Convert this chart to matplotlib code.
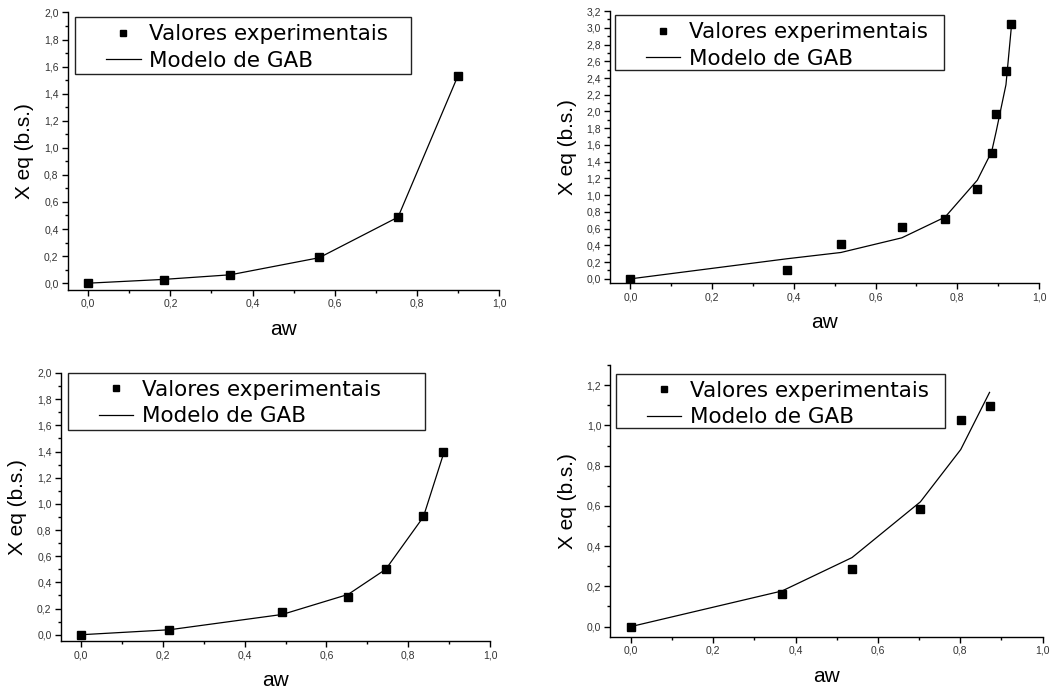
import matplotlib
matplotlib.use("Agg")
import matplotlib.pyplot as plt
from matplotlib.patches import Rectangle
from matplotlib.ticker import MultipleLocator, FuncFormatter

plt.rcParams["font.family"] = ["Liberation Sans", "DejaVu Sans"]

# Panel A (top left)
aw_a = [0.0, 0.184, 0.346, 0.562, 0.754, 0.899]
exp_a = [0.0, 0.027, 0.064, 0.192, 0.490, 1.527]
gab_a = [0.0, 0.028, 0.062, 0.188, 0.488, 1.527]

# Panel B (top right)
aw_b = [0.0, 0.383, 0.515, 0.664, 0.770, 0.849, 0.884, 0.895, 0.919, 0.932]
exp_b = [0.0, 0.104, 0.415, 0.615, 0.718, 1.069, 1.508, 1.975, 2.486, 3.041]
gab_b = [0.0, 0.24, 0.315, 0.49, 0.738, 1.18, 1.52, 1.76, 2.32, 3.0]

# Panel C (bottom left)
aw_c = [0.0, 0.216, 0.492, 0.653, 0.745, 0.837, 0.886]
exp_c = [0.0, 0.038, 0.173, 0.288, 0.499, 0.911, 1.394]
gab_c = [0.0, 0.038, 0.155, 0.308, 0.50, 0.90, 1.38]

# Panel D (bottom right)
aw_d = [0.0, 0.367, 0.537, 0.703, 0.801, 0.871]
exp_d = [0.0, 0.161, 0.285, 0.582, 1.028, 1.094]
gab_d = [0.0, 0.177, 0.343, 0.62, 0.88, 1.164]

# data, y top, axes rect, legend box (x0, x1, ybottom, ytop) in axes fraction
panels = [
    (aw_a, exp_a, gab_a, 2.0, [0.0637, 0.581, 0.4063, 0.401],
     (0.0176, 0.795, 0.780, 0.982)),
    (aw_b, exp_b, gab_b, 3.2, [0.5744, 0.591, 0.4040, 0.393],
     (0.0117, 0.779, 0.782, 0.984)),
    (aw_c, exp_c, gab_c, 2.0, [0.0571, 0.0733, 0.4043, 0.3877],
     (0.0163, 0.849, 0.789, 1.0)),
    (aw_d, exp_d, gab_d, 1.3, [0.5747, 0.080, 0.4071, 0.3925],
     (0.0132, 0.775, 0.769, 0.968)),
]

comma = FuncFormatter(lambda v, p: f"{v:.1f}".replace(".", ","))

W, H = 1062, 692
fig = plt.figure(figsize=(W / 100, H / 100), dpi=100)

for aw, exp, gab, ytop, rect, box in panels:
    ax = fig.add_axes(rect)
    ax.plot(aw, gab, color="black", lw=0.9, label="Modelo de GAB", zorder=2)
    ax.plot(aw, exp, ls="none", marker="s", ms=6, color="black",
            label="Valores experimentais", zorder=3)
    ax.set_xlim(-0.05, 1.0)
    ax.set_ylim(-0.05, ytop)
    for s in ("top", "right"):
        ax.spines[s].set_visible(False)
    for s in ("left", "bottom"):
        ax.spines[s].set_linewidth(1.0)
    ax.xaxis.set_major_locator(MultipleLocator(0.2))
    ax.xaxis.set_minor_locator(MultipleLocator(0.1))
    ax.yaxis.set_major_locator(MultipleLocator(0.2))
    ax.yaxis.set_minor_locator(MultipleLocator(0.1))
    ax.xaxis.set_major_formatter(comma)
    ax.yaxis.set_major_formatter(comma)
    ax.tick_params(which="major", length=4, width=1, labelsize=7.5,
                   colors="black", labelcolor="#333333", pad=2.5)
    ax.tick_params(which="minor", length=2.5, width=1)
    ax.set_xlabel("aw", fontsize=15, labelpad=8)
    ax.set_ylabel("X eq (b.s.)", fontsize=15, labelpad=7)

    # Origin-style legend: wide frame with the entries set in from the left
    x0, x1, y0, y1 = box
    ax_w = rect[2] * W
    ax_h = rect[3] * H
    ax.add_patch(Rectangle((x0, y0), x1 - x0, y1 - y0,
                           transform=ax.transAxes, facecolor="white",
                           edgecolor="#222222", lw=1.0, zorder=4,
                           clip_on=False))
    handles, labels = ax.get_legend_handles_labels()
    leg = ax.legend(handles[::-1], labels[::-1], loc="upper left",
                    bbox_to_anchor=(x0 + 31 / ax_w, y1 - 7 / ax_h),
                    prop={"family": "DejaVu Sans", "size": 15.5},
                    frameon=False, markerscale=0.7,
                    handlelength=1.6, borderpad=0.0, labelspacing=0.3,
                    handletextpad=0.4, borderaxespad=0.0)
    leg.set_zorder(5)

fig.savefig("out.png", dpi=100)
